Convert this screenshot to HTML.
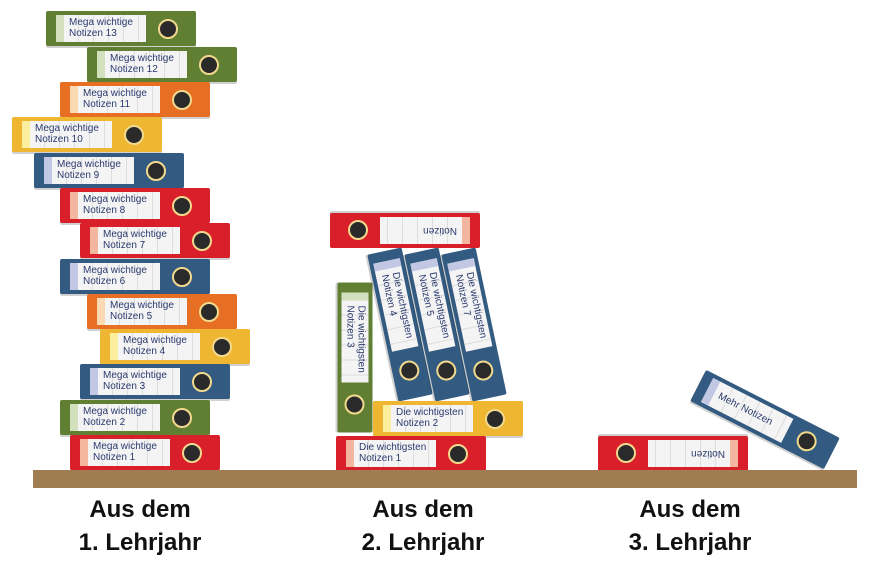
<!DOCTYPE html>
<html><head><meta charset="utf-8"><style>
body{margin:0;width:873px;height:563px;background:#fff;position:relative;overflow:hidden;font-family:"Liberation Sans",sans-serif}
.b{position:absolute;width:150px;height:35px;border-radius:2px;box-shadow:0 2px 0 rgba(0,0,0,.18)}
.l{position:absolute;left:10px;top:4px;width:90px;height:27px;background:#f4f4f4;border-left:8px solid;box-sizing:border-box;font-size:10px;line-height:11px;color:#2b3a6e;padding:2px 0 0 5px;font-family:"Liberation Sans Narrow","Liberation Sans",sans-serif;background-image:repeating-linear-gradient(90deg,transparent 0 14px,#ddd 14px 15px);white-space:nowrap}
.h{position:absolute;left:112px;top:8px;width:16px;height:16px;border-radius:50%;background:#2b2a2a;border:2px solid #f1d98e}
.g{background:#617f33}.g .l{border-color:#d3e0bd}
.o{background:#e76f23}.o .l{border-color:#fbd9b2}
.y{background:#efb631}.y .l{border-color:#fbee9c}
.u{background:#335a80}.u .l{border-color:#c2c8e4}
.r{background:#d9202a}.r .l{border-color:#f5b6a0}
.shelf{position:absolute;left:33px;top:470px;width:824px;height:18px;background:#a07c52}
.t{position:absolute;width:200px;text-align:center;font-weight:bold;font-size:24px;line-height:33px;top:493px;color:#111}
</style></head><body>
<div class="b g" style="left:46px;top:11px"><div class="l">Mega wichtige<br>Notizen 13</div><div class="h"></div></div>
<div class="b g" style="left:87px;top:47px"><div class="l">Mega wichtige<br>Notizen 12</div><div class="h"></div></div>
<div class="b o" style="left:60px;top:82px"><div class="l">Mega wichtige<br>Notizen 11</div><div class="h"></div></div>
<div class="b y" style="left:12px;top:117px"><div class="l">Mega wichtige<br>Notizen 10</div><div class="h"></div></div>
<div class="b u" style="left:34px;top:153px"><div class="l">Mega wichtige<br>Notizen 9</div><div class="h"></div></div>
<div class="b r" style="left:60px;top:188px"><div class="l">Mega wichtige<br>Notizen 8</div><div class="h"></div></div>
<div class="b r" style="left:80px;top:223px"><div class="l">Mega wichtige<br>Notizen 7</div><div class="h"></div></div>
<div class="b u" style="left:60px;top:259px"><div class="l">Mega wichtige<br>Notizen 6</div><div class="h"></div></div>
<div class="b o" style="left:87px;top:294px"><div class="l">Mega wichtige<br>Notizen 5</div><div class="h"></div></div>
<div class="b y" style="left:100px;top:329px"><div class="l">Mega wichtige<br>Notizen 4</div><div class="h"></div></div>
<div class="b u" style="left:80px;top:364px"><div class="l">Mega wichtige<br>Notizen 3</div><div class="h"></div></div>
<div class="b g" style="left:60px;top:400px"><div class="l">Mega wichtige<br>Notizen 2</div><div class="h"></div></div>
<div class="b r" style="left:70px;top:435px"><div class="l">Mega wichtige<br>Notizen 1</div><div class="h"></div></div>

<div class="b r" style="left:330px;top:213px;transform:rotate(180deg)"><div class="l" style="padding-top:8px">Notizen</div><div class="h"></div></div>
<div class="b g" style="left:280px;top:340px;transform:rotate(90deg)"><div class="l">Die wichtigsten<br>Notizen 3</div><div class="h"></div></div>
<div class="b u" style="left:325px;top:307px;transform:rotate(78deg)"><div class="l">Die wichtigsten<br>Notizen 4</div><div class="h"></div></div>
<div class="b u" style="left:362px;top:307px;transform:rotate(78deg)"><div class="l">Die wichtigsten<br>Notizen 5</div><div class="h"></div></div>
<div class="b u" style="left:399px;top:307px;transform:rotate(78deg)"><div class="l">Die wichtigsten<br>Notizen 7</div><div class="h"></div></div>
<div class="b y" style="left:373px;top:401px"><div class="l">Die wichtigsten<br>Notizen 2</div><div class="h"></div></div>
<div class="b r" style="left:336px;top:436px"><div class="l">Die wichtigsten<br>Notizen 1</div><div class="h"></div></div>

<div class="b r" style="left:598px;top:436px;transform:rotate(180deg)"><div class="l" style="padding-top:8px">Notizen</div><div class="h"></div></div>
<div class="b u" style="left:690px;top:402px;transform:rotate(27deg)"><div class="l" style="padding-top:8px">Mehr Notizen</div><div class="h"></div></div>

<div class="shelf"></div>
<div class="t" style="left:40px">Aus dem<br>1. Lehrjahr</div>
<div class="t" style="left:323px">Aus dem<br>2. Lehrjahr</div>
<div class="t" style="left:590px">Aus dem<br>3. Lehrjahr</div>
</body></html>
